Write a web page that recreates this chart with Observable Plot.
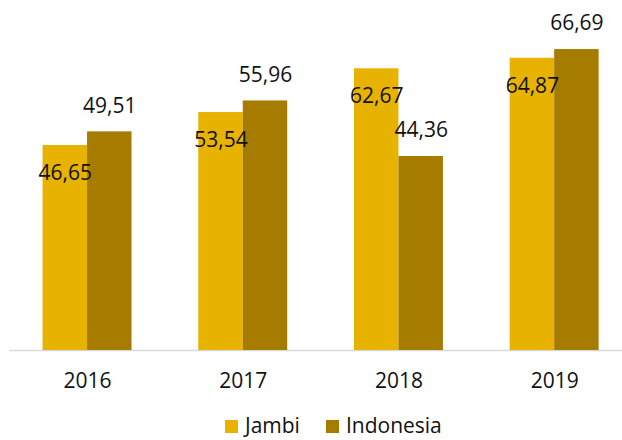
<!DOCTYPE html>
<html>
<head>
<meta charset="utf-8">
<script src="https://cdn.jsdelivr.net/npm/d3@7"></script>
<script src="https://cdn.jsdelivr.net/npm/@observablehq/plot@0.6"></script>
<style>
  html, body { margin: 0; padding: 0; background: #fff; overflow: hidden; }
  body { width: 622px; height: 440px; font-family: "Open Sans", sans-serif; }
  #legend { margin-left: 225px; font-size: 21px; line-height: 21px; color: #111; white-space: nowrap; }
  #legend .sw { display: inline-block; width: 13px; height: 13px; vertical-align: baseline; margin-right: 7px; }
  #legend .item { display: inline-block; }
</style>
</head>
<body>
<div id="chart"></div>
<div id="legend"></div>
<script>
const years = ["2016", "2017", "2018", "2019"];
const series = ["Jambi", "Indonesia"];
const jambi = [46.65, 53.54, 62.67, 64.87];
const indonesia = [49.51, 55.96, 44.36, 66.69];
const colors = ["#E8B200", "#A67C00"];

const yMin = 3.86, yMax = 70;
const data = [];
years.forEach((y, i) => {
  data.push({year: y, series: "Jambi", value: jambi[i]});
  data.push({year: y, series: "Indonesia", value: indonesia[i]});
});
const fmt = v => v.toFixed(2).replace(".", ",");

const plot = Plot.plot({
  width: 622,
  height: 415,
  marginTop: 33.2,
  marginBottom: 65,
  marginLeft: 9.2,
  marginRight: -10,
  style: {fontFamily: "Open Sans", background: "transparent", overflow: "visible"},
  fx: {domain: years, padding: 0, round: false, axis: null, label: null},
  x: {domain: series, paddingInner: 0, paddingOuter: 0.75, round: false, axis: null},
  y: {domain: [yMin, yMax], axis: null},
  color: {domain: series, range: colors},
  marks: [
    Plot.ruleY([yMin], {stroke: "#d9d9d9", strokeWidth: 1.5}),
    Plot.barY(data, {fx: "year", x: "series", y1: yMin, y2: "value", fill: "series", inset: 0}),
    Plot.text(data.filter(d => d.series === "Jambi"), {fx: "year", x: "series", y: "value", text: d => fmt(d.value), dy: 27.5, fontSize: 21, fill: "#111"}),
    Plot.text(data.filter(d => d.series === "Indonesia"), {fx: "year", x: "series", y: "value", text: d => fmt(d.value), dy: -26, fontSize: 21, fill: "#111"}),
    Plot.axisFx({anchor: "bottom", tickSize: 0, tickPadding: 23, fontSize: 21, color: "#111", label: null})
  ]
});
document.getElementById("chart").appendChild(plot);

const legend = document.getElementById("legend");
series.forEach((s, i) => {
  const item = document.createElement("span");
  item.className = "item";
  if (i > 0) item.style.marginLeft = "26px";
  const sw = document.createElement("span");
  sw.className = "sw";
  sw.style.background = colors[i];
  item.appendChild(sw);
  item.appendChild(document.createTextNode(s));
  legend.appendChild(item);
});
</script>
</body>
</html>
